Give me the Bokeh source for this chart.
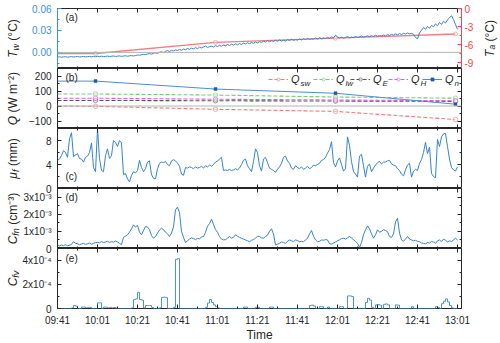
import numpy as np
import pandas as pd
from math import pi
from bokeh.plotting import figure
from bokeh.layouts import column, row
from bokeh.models import (Range1d, LinearAxis, DatetimeAxis, FixedTicker, Span,
                          Label, Legend, LegendItem)
from bokeh.embed import file_html
from bokeh.resources import INLINE

DAY = "2021-01-01 "
t_start = "09:41"
t_end = "13:03"
x_tick_labels = ["09:41", "10:01", "10:21", "10:41", "11:01", "11:21",
                 "11:41", "12:01", "12:21", "12:41", "13:01"]

# (a) water temperature T_w, 1-min samples, in 1e-3 degC
tw_mC = [-6.4, -6.0, -6.6, -6.2, -5.8, -6.5, -6.1, -5.7, -6.3, -6.0, -5.6,
         -6.2, -5.9, -5.5, -6.1, -5.8, -5.4, -6.0, -5.6, -5.9, -5.3,
         -5.7, -5.2, -5.8, -5.5, -5.0, -5.6, -5.3, -4.9, -5.5, -5.1,
         -4.8, -5.4, -5.0, -4.6, -5.2, -4.7, -4.3, -4.9, -4.2, -3.6,
         -3.9, -3.2, -2.6, -3.1, -2.2, -1.6, -2.3, -1.2, -0.6, -1.4,
         0.2, 0.9, -0.3, 1.5, 2.4, 1.2, 2.8, 1.9, 3.4, 2.6,
         4.1, 3.0, 4.6, 3.7, 5.3, 4.2, 5.8, 4.9, 6.5, 5.2,
         7.0, 6.1, 7.4, 8.8, 6.9, 7.8, 8.5, 7.3, 9.2, 8.1,
         9.6, 8.4, 10.1, 9.0, 10.7, 9.4, 11.2, 10.0, 11.8, 10.3,
         12.1, 10.9, 12.7, 11.5, 13.2, 11.8, 13.6, 12.4, 14.3, 12.9,
         14.8, 13.5, 15.6, 14.1, 16.2, 14.6, 15.9, 14.9, 16.6, 15.2,
         17.1, 15.6, 16.8, 15.4, 17.5, 16.2, 18.0, 16.5, 17.4, 16.8,
         18.3, 17.0, 18.8, 17.5, 19.2, 17.9, 18.6, 18.2, 19.6, 18.1,
         20.2, 18.7, 19.8, 19.0, 20.6, 19.4, 21.3, 20.0, 23.5, 21.2,
         19.8, 20.9, 19.5, 20.4, 21.6, 19.9, 21.0, 20.3, 21.8, 20.6,
         21.2, 22.4, 20.9, 21.7, 22.6, 21.3, 22.9, 21.8, 23.4, 22.2,
         23.0, 22.5, 23.8, 22.6, 24.2, 23.1, 24.7, 23.5, 25.2, 24.0,
         25.8, 24.4, 26.1, 25.0, 26.6, 25.3, 26.0, 24.8, 20.5, 18.6,
         26.5, 30.2, 34.0, 31.6, 35.4, 33.1, 36.8, 35.2, 38.9, 36.4,
         41.0, 38.2, 42.5, 40.1, 44.6, 47.3, 50.2, 45.1, 38.0, 31.5]
# air temperature T_a (degC)
ta_times = ["09:41", "10:00", "11:00", "12:00", "13:00"]
ta = [-7.5, -7.5, -5.65, -4.95, -4.25]

# (b) heat fluxes (W m-2)
q_times = ["09:41", "10:00", "11:00", "12:00", "13:00"]
q_sw = [0, -2, -22, -36, -90]
q_lw = [80, 80, 73, 60, 52]
q_e = [37, 37, 35, 33, 31]
q_h = [52, 52, 45, 40, 35]
q_n = [166, 166, 113, 85, 12]

# (c) mu_f (mm), 1-min samples
mu_f = [4.7, 4.9, 5.5, 6.3, 6.0, 5.2, 8.3, 9.3, 5.3, 5.6,
        5.8, 5.0, 4.9, 4.4, 5.2, 5.4, 6.0, 7.6, 3.5, 2.8,
        10.0, 5.0, 3.0, 2.8, 5.5, 6.6, 5.0, 5.5, 8.0, 7.7,
        7.0, 8.0, 7.6, 2.3, 2.5, 1.6, 1.1, 2.2, 2.8, 2.6,
        3.0, 4.7, 3.5, 2.8, 3.3, 4.4, 4.6, 2.3, 1.7, 1.6,
        3.3, 4.2, 4.4, 4.3, 4.5, 4.0, 3.8, 4.6, 4.8, 4.6,
        4.2, 3.7, 2.4, 2.2, 3.5, 3.4, 3.6, 3.5, 3.3, 3.6,
        3.4, 3.5, 3.7, 3.4, 3.8, 3.6, 3.9, 3.7, 4.0, 4.4,
        4.6, 4.9, 5.2, 3.0, 3.1, 3.0, 3.2, 3.0, 3.1, 3.3,
        3.1, 3.4, 4.0, 4.7, 4.9, 3.8, 3.3, 2.8, 4.5, 6.6,
        6.0, 3.8, 2.9, 4.9, 5.2, 4.3, 3.4, 3.2, 3.0, 2.7,
        3.2, 3.6, 4.2, 5.2, 5.4, 4.6, 4.2, 3.4, 3.2, 3.8,
        3.5, 3.3, 3.6, 3.2, 3.4, 3.7, 3.3, 3.5, 3.9, 3.8,
        4.0, 4.2, 4.7, 4.8, 5.2, 5.9, 6.5, 7.8, 4.3, 3.6,
        4.6, 5.1, 4.0, 2.9, 3.3, 8.6, 7.2, 4.5, 2.8, 2.4,
        1.9, 5.4, 5.7, 3.8, 1.9, 3.7, 4.1, 2.8, 3.4, 3.9,
        4.3, 4.5, 4.1, 4.4, 4.4, 4.6, 4.7, 4.1, 3.9, 3.8,
        3.3, 3.0, 2.4, 2.1, 3.1, 3.9, 4.2, 1.9, 2.9, 3.2,
        3.0, 4.2, 4.8, 6.0, 7.7, 5.8, 6.9, 2.5, 2.0, 1.8,
        8.2, 7.0, 8.6, 9.1, 9.2, 7.0, 4.9, 3.5, 3.1, 2.9,
        3.6]

# (d) C_fn, in 1e-3 cm-3, 1-min samples
c_fn_e3 = [0.18, 0.15, 0.2, 0.17, 0.22, 0.16, 0.19, 0.24, 0.4, 0.3,
           0.28, 0.22, 0.26, 0.3, 0.24, 0.27, 0.32, 0.25, 0.3, 0.34,
           0.36, 0.33, 0.4, 0.35, 0.38, 0.42, 0.36, 0.4, 0.37, 0.44,
           0.38, 0.3, 0.22, 0.65, 0.72, 0.8, 0.95, 1.15, 1.38, 1.25,
           1.35, 0.95, 0.8, 1.05, 1.28, 1.25, 1.1, 0.75, 0.6, 0.7,
           0.9, 1.08, 1.18, 1.1, 0.95, 0.85, 0.7, 0.9, 1.25, 2.26,
           2.41, 2.1, 1.0, 0.65, 0.35, 0.45, 0.55, 0.62, 0.58, 0.52,
           0.6, 0.55, 0.68, 0.7, 0.95, 1.3, 1.45, 1.71, 1.4, 1.1,
           0.95, 0.7, 0.55, 0.5, 0.52, 0.6, 0.7, 0.6, 0.65, 0.8,
           0.72, 0.65, 0.6, 0.55, 0.5, 0.45, 0.4, 0.48, 0.52, 0.6,
           0.72, 0.7, 0.62, 0.6, 0.7, 0.78, 1.0, 1.15, 0.85, 0.2,
           0.25, 0.3, 0.38, 0.35, 0.3, 0.42, 0.5, 0.45, 0.4, 0.5,
           0.46, 0.4, 0.42, 0.4, 0.5, 0.6, 0.85, 1.05, 0.72, 0.5,
           0.4, 0.42, 0.5, 0.48, 0.52, 0.5, 0.28, 0.25, 0.32, 0.38,
           0.45, 0.5, 0.58, 0.6, 0.55, 0.62, 0.7, 0.62, 0.5, 0.42,
           0.3, 0.07, 0.35, 0.8, 1.09, 1.32, 1.15, 0.85, 0.6, 0.8,
           1.09, 0.95, 1.0, 1.1, 1.05, 0.98, 0.7, 0.65, 0.85, 1.55,
           1.77, 0.9, 0.5, 0.42, 0.55, 0.7, 0.55, 0.5, 0.45, 0.48,
           0.42, 0.4, 0.32, 0.3, 0.27, 0.35, 0.32, 0.4, 0.38, 0.3,
           0.45, 0.5, 0.4, 0.55, 0.48, 0.38, 0.45, 0.4, 0.5, 0.6,
           0.5]

# (e) C_fv, in 1e-4, 1-min samples
c_fv_e4 = [0, 0, 0, 0, 0, 0, 0, 0.05, 0.25, 0.2,
           0, 0, 0.12, 0.12, 0.05, 0.1, 0.1, 0, 0, 0,
           0.47, 0.47, 0, 0.12, 0.12, 0.05, 0.1, 0.05, 0.08, 0.03,
           0, 0, 0, 0, 0, 0, 0, 0.05, 0.75, 0.8,
           1.35, 0.75, 0.7, 0.05, 0.25, 0.25, 0.25, 0.1, 0, 0,
           0, 0.05, 0.92, 0.95, 0.9, 0, 0, 0, 0.1, 4.1,
           4.15, 0, 0, 0, 0, 0, 0, 0, 0, 0,
           0, 0, 0, 0, 0.1, 0.45, 0.75, 0.5, 0.3, 0.15,
           0.05, 0, 0, 0, 0, 0, 0, 0, 0, 0,
           0, 0, 0, 0.12, 0.12, 0, 0, 0, 0, 0.1,
           0.1, 0, 0, 0, 0, 0, 0.12, 0.12, 0, 0,
           0, 0, 0, 0, 0, 0, 0, 0, 0, 0,
           0, 0, 0, 0, 0, 0, 0.25, 0.28, 0.2, 0,
           0, 0.15, 0.15, 0, 0, 0.12, 0, 0, 0, 0,
           0, 0.15, 0.15, 0, 0, 1.05, 1.05, 1.0, 0, 0,
           0, 0, 0, 0, 0.5, 0.85, 0.7, 0.1, 0, 0.3,
           0.32, 0.28, 0, 0.35, 0.38, 0.3, 0, 0, 0, 0.3,
           0.28, 0, 0, 0, 0, 0, 0, 0.15, 0, 0,
           0, 0, 0, 0, 0, 0, 0, 0, 0, 0.15,
           0.1, 0, 0.4, 0.6, 0.8, 0.55, 0.25, 0.05, 0, 0,
           0]

# tick values / labels
tw_ticks, tw_labels = [0.0, 0.03, 0.06], ["0.00", "0.03", "0.06"]
ta_ticks, ta_labels = [0, -3, -6, -9], ["0", "-3", "-6", "-9"]
q_ticks, q_labels = [-100, 0, 100, 200], ["\u2212100", "0", "100", "200"]
mu_ticks, mu_labels = [0, 4, 8], ["0", "4", "8"]
cfn_ticks, cfn_labels = [0.0, 0.001, 0.002, 0.003], ["0", "1x10\u207b\u00b3", "2x10\u207b\u00b3", "3x10\u207b\u00b3"]
cfv_ticks, cfv_labels = [0.0, 0.0002, 0.0004], ["0", "2x10\u207b\u2074", "4x10\u207b\u2074"]

# ---------------------------------------------------------------- helpers
FONT = "Liberation Sans"
INK = "#262626"
BLUE = "#3584cc"
AX_BLUE = "#3d8fd6"
RED = "#f04848"
C_SW, C_LW, C_E, C_H, C_N = "#f47a7a", "#77c977", "#555555", "#ec55ec", "#4a8fd0"
NB = "\u00a0"
FW, FH = 404, 60
LEFT_W = 57          # left strip: y titles + y tick labels
TOTAL_W = 498
TOP_A, BOT_E, BOTTOM_H = 8, 6, 27


def ms(hm):
    return pd.Timestamp(DAY + hm).value / 1e6


def grid(n):
    return pd.date_range(DAY + t_start, periods=n, freq="min")


def hm_times(lst):
    return pd.to_datetime([DAY + s for s in lst])


x_major = [ms(s) for s in x_tick_labels]
x_minor = [m + 600000 for m in x_major]
xr = Range1d(ms(t_start), ms(t_end))


def style_axis(ax, ticks, minor, color=INK, labels=None, standoff=5, line=False):
    ax.ticker = FixedTicker(ticks=ticks, minor_ticks=minor)
    ax.axis_line_color = color if line else None
    ax.major_tick_line_color = color
    ax.minor_tick_line_color = color
    ax.major_tick_in, ax.major_tick_out = 4, 0
    ax.minor_tick_in, ax.minor_tick_out = 2, 0
    if labels is not None:
        ax.major_label_overrides = dict(zip(ticks, labels))
        ax.major_label_text_font = FONT
        ax.major_label_text_font_size = "10px"
        ax.major_label_text_color = color
        ax.major_label_standoff = standoff
    else:
        ax.major_label_text_font_size = "0px"
        ax.major_label_text_alpha = 0
        ax.major_label_standoff = 0


def panel(y0, y1, right_border, top=0, bottom=0):
    p = figure(frame_width=FW, frame_height=FH, x_range=xr, y_range=Range1d(y0, y1),
               x_axis_type="datetime", output_backend="svg", toolbar_location=None,
               min_border_left=0, min_border_right=right_border,
               min_border_top=top, min_border_bottom=bottom)
    p.grid.visible = False
    p.outline_line_color = INK
    p.outline_line_width = 1
    top_ax = DatetimeAxis()
    p.add_layout(top_ax, "above")
    style_axis(top_ax, x_major, x_minor)
    style_axis(p.below[0], x_major, x_minor)
    return p


def strip(width, height):
    f = figure(width=width, height=height, x_range=Range1d(0, 1), y_range=Range1d(0, 1),
               output_backend="svg", toolbar_location=None, min_border=0,
               x_axis_location=None, y_axis_location=None)
    f.grid.visible = False
    f.outline_line_color = None
    return f


WID = {'T': .611, 'w': .722, 'Q': .778, 'C': .722, '\u03bc': .576, 'f': .278, 'n': .556,
       'v': .5, 's': .5, 'l': .222, 'E': .667, 'H': .722, 'a': .556, ' ': .278, NB: .278,
       '(': .333, ')': .333, '\u00b0': .4, 'W': .944, 'm': .833, 'c': .5,
       '\u207b': .35, '\u00b2': .333, '\u00b3': .333}


def text_w(s, size):
    return sum(WID.get(ch, .556) for ch in s) * size


def vlabel(f, x, yc, pieces):
    total = sum(text_w(t, sz) for t, sz, st, dx in pieces)
    y = yc - total / 2
    for t, sz, st, dx in pieces:
        f.add_layout(Label(x=x + dx, y=y, x_units="screen", y_units="screen", text=t,
                           angle=pi / 2, text_align="left", text_baseline="middle",
                           text_font=FONT, text_font_size=f"{sz}px",
                           text_font_style=st, text_color=INK))
        y += text_w(t, sz)


def tag(p, s, y):
    p.add_layout(Label(x=8, y=y, x_units="screen", y_units="screen", text=s,
                       text_align="left", text_baseline="middle", text_font=FONT,
                       text_font_size="10px", text_color=INK))


DEG = NB + "(\u00b0C)"
RB = TOTAL_W - LEFT_W - FW

# ---------------------------------------------------------------- (a)
RB_A = 17
RW_A = TOTAL_W - LEFT_W - FW - RB_A
A_RANGE = (-0.022, 0.06)
pa = panel(*A_RANGE, RB_A, top=TOP_A)
pa.extra_y_ranges = {"ta": Range1d(-10, 0)}
pa.add_layout(LinearAxis(y_range_name="ta"), "right")
style_axis(pa.yaxis[0], tw_ticks, [-0.015, 0.015, 0.045], color=AX_BLUE, line=True)
style_axis(pa.yaxis[1], ta_ticks, [-1.5, -4.5, -7.5], color=RED, labels=ta_labels, standoff=3, line=True)
pa.add_layout(Span(location=0, dimension="width", line_color="#b4b4b4", line_width=1))
pa.line(hm_times(ta_times), ta, y_range_name="ta", line_color="#f07070", line_width=1.3, line_alpha=0.9)
pa.scatter(hm_times(ta_times[1:]), ta[1:], y_range_name="ta", marker="circle", size=4,
           line_color="#f07070", line_alpha=0.5, fill_color="white", fill_alpha=0.4)
pa.line(grid(len(tw_mC)), np.array(tw_mC) * 1e-3, line_color=BLUE, line_width=1)
tag(pa, "(a)", FH - 8.5)
ra = strip(RW_A, FH + TOP_A)
vlabel(ra, 11, FH / 2, [("T", 12, "italic", 0), ("a", 8.5, "italic", 2.5), (DEG, 12, "normal", 0)])

# ---------------------------------------------------------------- (b)
B_RANGE = (-150, 250)
pb = panel(*B_RANGE, RB)
pb.add_layout(LinearAxis(), "right")
style_axis(pb.yaxis[0], q_ticks, [-150, -50, 50, 150, 250])
style_axis(pb.yaxis[1], q_ticks, [-150, -50, 50, 150, 250])
pb.add_layout(Span(location=0, dimension="width", line_color="#b4b4b4", line_width=1))
qt = hm_times(q_times)
series = [(q_sw, C_SW, "sw"), (q_lw, C_LW, "lw"), (q_e, C_E, "E"), (q_h, C_H, "H"), (q_n, C_N, "n")]
leg_x = [211, 256, 293, 331, 365]
leg_yc = 48
for (vals, col, sub), lx in zip(series, leg_x):
    if sub == "n":
        rl = pb.line(qt, vals, line_color=col, line_width=1)
        rp = pb.scatter(qt[1:], vals[1:], marker="square", size=3, line_width=0.5,
                        line_color="#1f5fa0", fill_color="#1f5fa0")
    else:
        rl = pb.line(qt, vals, line_color=col, line_width=1.1, line_dash="4 2")
        rp = pb.scatter(qt[1:], vals[1:], marker="circle", size=4.5, line_color=col,
                        line_alpha=0.6, fill_color="white", fill_alpha=0.5)
    lg = Legend(items=[LegendItem(label="Q", renderers=[rl, rp])], location=(lx, leg_yc - 5),
                orientation="horizontal", padding=0, margin=0, spacing=0,
                glyph_width=20, glyph_height=8, label_height=10, label_width=8,
                label_standoff=3, border_line_alpha=0, background_fill_alpha=0,
                label_text_font=FONT, label_text_font_size="11px",
                label_text_font_style="italic", label_text_color=INK)
    pb.add_layout(lg)
    pb.add_layout(Label(x=lx + 20 + 3 + text_w("Q", 11) + 0.5, y=leg_yc - 3,
                        x_units="screen", y_units="screen", text=sub, text_align="left",
                        text_baseline="middle", text_font=FONT, text_font_size="8px",
                        text_font_style="italic", text_color=INK))
tag(pb, "(b)", FH - 8.5)

# ---------------------------------------------------------------- (c)
C_RANGE = (0, 10)
pc = panel(*C_RANGE, RB)
pc.add_layout(LinearAxis(), "right")
style_axis(pc.yaxis[0], mu_ticks, [2, 6, 10])
style_axis(pc.yaxis[1], mu_ticks, [2, 6, 10])
pc.line(grid(len(mu_f)), mu_f, line_color=BLUE, line_width=1)
tag(pc, "(c)", 12)

# ---------------------------------------------------------------- (d)
D_RANGE = (0, 0.0035)
pd_ = panel(*D_RANGE, RB)
pd_.add_layout(LinearAxis(), "right")
style_axis(pd_.yaxis[0], cfn_ticks, [0.0005, 0.0015, 0.0025, 0.0035])
style_axis(pd_.yaxis[1], cfn_ticks, [0.0005, 0.0015, 0.0025, 0.0035])
pd_.line(grid(len(c_fn_e3)), np.array(c_fn_e3) * 1e-3, line_color=BLUE, line_width=1)
tag(pd_, "(d)", FH - 9)

# ---------------------------------------------------------------- (e)
E_RANGE = (0, 0.0005)
pe = panel(*E_RANGE, RB, bottom=BOT_E)
pe.add_layout(LinearAxis(), "right")
style_axis(pe.yaxis[0], cfv_ticks, [0.0001, 0.0003, 0.0005])
style_axis(pe.yaxis[1], cfv_ticks, [0.0001, 0.0003, 0.0005])
pe.step(grid(len(c_fv_e4)), np.array(c_fv_e4) * 1e-4, mode="after", line_color="#4a94d8",
        line_width=1)
tag(pe, "(e)", FH - 10)

# ---------------------------------------------------------------- left strip: y titles + y tick labels
STRIP_H = TOP_A + 5 * FH + BOT_E
left = strip(LEFT_W, STRIP_H)
specs = [  # range, ticks, labels, colour, title pieces
    (A_RANGE, tw_ticks, tw_labels, AX_BLUE,
     [("T", 12, "italic", 0), ("w", 9, "italic", 3), (DEG, 12, "normal", 0)]),
    (B_RANGE, q_ticks, q_labels, INK,
     [("Q", 12, "italic", 0), (NB + "(W m\u207b\u00b2)", 12, "normal", 0)]),
    (C_RANGE, mu_ticks, mu_labels, INK,
     [("\u03bc", 12, "italic", 0), ("f", 9, "italic", 3), (NB + "(mm)", 12, "normal", 0)]),
    (D_RANGE, cfn_ticks, cfn_labels, INK,
     [("C", 12, "italic", 0), ("fn", 9, "italic", 3), (NB + "(cm\u207b\u00b3)", 12, "normal", 0)]),
    (E_RANGE, cfv_ticks, cfv_labels, INK,
     [("C", 12, "italic", 0), ("fv", 9, "italic", 3)]),
]
for i, ((lo, hi), ticks, labels, col, title) in enumerate(specs):
    band0 = BOT_E + FH * (4 - i)
    for v, s in zip(ticks, labels):
        left.add_layout(Label(x=LEFT_W - 6, y=band0 + (v - lo) / (hi - lo) * FH,
                              x_units="screen", y_units="screen", text=s,
                              text_align="right", text_baseline="middle", text_font=FONT,
                              text_font_size="10px", text_color=col))
    vlabel(left, 12, band0 + FH / 2, title)

# ---------------------------------------------------------------- bottom strip: time tick labels + title
bottom = strip(TOTAL_W, BOTTOM_H)
t0, t1 = ms(t_start), ms(t_end)
for s in x_tick_labels:
    bottom.add_layout(Label(x=LEFT_W + (ms(s) - t0) / (t1 - t0) * FW, y=BOTTOM_H - 6,
                            x_units="screen", y_units="screen", text=s, text_align="center",
                            text_baseline="middle", text_font=FONT, text_font_size="10px",
                            text_color=INK))
bottom.add_layout(Label(x=LEFT_W + FW / 2, y=7, x_units="screen", y_units="screen",
                        text="Time", text_align="center", text_baseline="middle", text_font=FONT,
                        text_font_size="12px", text_color=INK))

panels = column(row(pa, ra, spacing=0), pb, pc, pd_, pe, spacing=0)
layout = column(row(left, panels, spacing=0), bottom, spacing=0)
open("out.html", "w").write(file_html(layout, INLINE))
